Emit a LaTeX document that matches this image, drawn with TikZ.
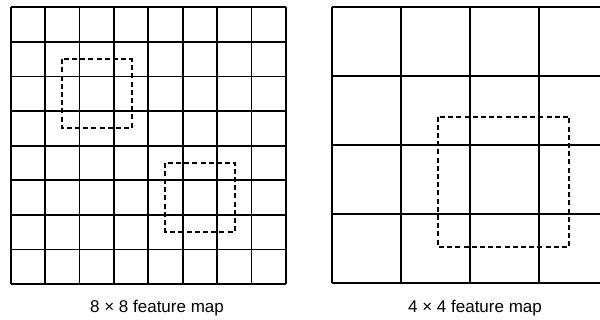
\documentclass[tikz,border=0pt]{standalone}
\usepackage{fontspec}
\setmainfont{Liberation Sans}
\begin{document}
\begin{tikzpicture}[x=1pt,y=-1pt,
  gridline/.style={line width=1.8pt,black},
  window/.style={line width=1.7pt,black,dash pattern=on 5pt off 3.2pt},
  caption/.style={font=\fontsize{17}{20}\selectfont,inner sep=0pt,anchor=base}]
\useasboundingbox (0,0) rectangle (600,320);
\clip (0,0) rectangle (600,320);
% left 8x8 grid
\foreach \i in {0,...,8} {
  \draw[gridline] ({10.7+\i*34.41},7.3) -- ({10.7+\i*34.41},284);
  \draw[gridline] (10.7,{7.3+\i*34.59}) -- (286,{7.3+\i*34.59});
}
\draw[window] (62,59.3) rectangle (131.7,128.3);
\draw[window] (165.3,162.7) rectangle (235.3,231.7);
% right 4x4 grid
\foreach \i in {0,...,4} {
  \draw[gridline] ({332.3+\i*69},6.7) -- ({332.3+\i*69},282.7);
  \draw[gridline] (332.3,{6.7+\i*69}) -- (608.3,{6.7+\i*69});
}
\draw[window] (438.3,116.7) rectangle (569.3,247.3);
% captions
\node[caption] (capL) at (157,313) {8 × 8 feature map};
\node[caption] (capR) at (475,313) {4 × 4 feature map};
\end{tikzpicture}
\end{document}
